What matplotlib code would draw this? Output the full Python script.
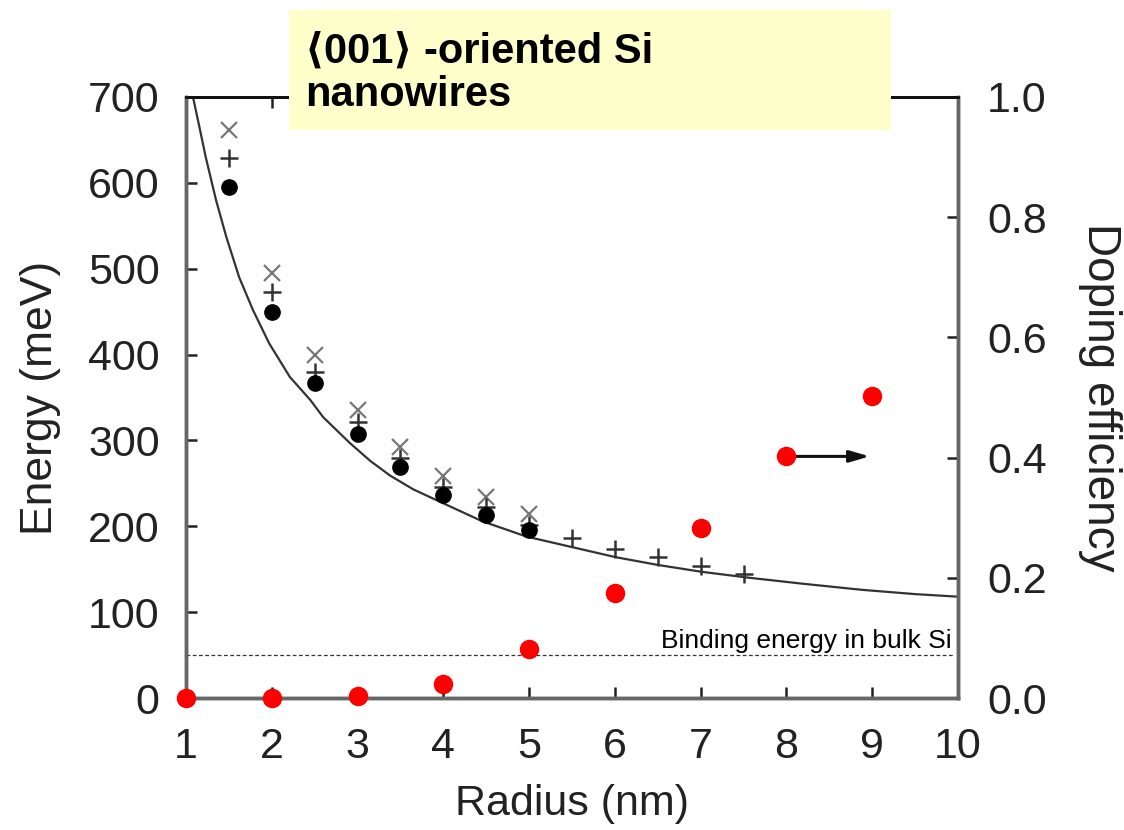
import matplotlib
matplotlib.use("Agg")
import matplotlib.pyplot as plt
from matplotlib.patches import Rectangle

plt.rcParams['font.family'] = ['Liberation Sans', 'DejaVu Sans']

# ---- data ----
radius_circ = [1.5, 2.0, 2.5, 3.0, 3.5, 4.0, 4.5, 5.0]
energy_circ = [595, 450, 367, 307, 269, 237, 213, 196]

radius_plus = [1.5, 2.0, 2.5, 3.0, 3.5, 4.0, 4.5, 5.0, 5.5, 6.0, 6.5, 7.0, 7.5]
energy_plus = [629, 473, 380, 321, 279, 246, 222, 202, 186, 173, 164, 154, 145]

radius_x = [1.5, 2.0, 2.5, 3.0, 3.5, 4.0, 4.5, 5.0]
energy_x = [661, 495, 399, 335, 292, 258, 234, 214]

radius_curve = [1.08, 1.09, 1.15, 1.23, 1.35, 1.47, 1.62, 1.78, 1.97, 2.21, 2.45, 2.60,
                2.91, 3.15, 3.38, 3.65, 3.93, 4.45, 4.97, 5.49, 6.01, 6.5, 7.01, 7.57,
                8.2, 8.88, 9.5, 10.0]
energy_curve = [700, 696, 668, 630, 580, 537, 490, 452, 413, 374, 347, 327,
                297, 276, 259, 243, 230, 206, 188, 176, 164, 155, 147, 140,
                133, 126, 121, 118]

radius_eff = [1, 2, 3, 4, 5, 6, 7, 8, 9]
doping_eff = [0.0, 0.0, 0.003, 0.023, 0.082, 0.174, 0.283, 0.402, 0.503]

bulk_binding = 50

xticks = [1, 2, 3, 4, 5, 6, 7, 8, 9, 10]
yticks_left = [0, 100, 200, 300, 400, 500, 600, 700]
yticks_right = [0.0, 0.2, 0.4, 0.6, 0.8, 1.0]

title_text = "\u27e8001\u27e9 -oriented Si\nnanowires"

# ---- figure ----
fig = plt.figure(figsize=(11.24, 8.30), dpi=100)
ax = fig.add_axes([186/1124, 1 - 698/830, (958 - 186)/1124, (698 - 97)/830])
ax2 = ax.twinx()

ax.plot(radius_curve, energy_curve, color='#333333', lw=1.6, zorder=2)
ax.plot(radius_x, energy_x, ls='none', marker='x', ms=11, mew=1.6, color='#777777', zorder=3)
ax.plot(radius_plus, energy_plus, ls='none', marker='+', ms=13, mew=1.8, color='#333333', zorder=4)
ax.plot(radius_circ, energy_circ, ls='none', marker='o', ms=11, color='black', zorder=5)

ax.axhline(bulk_binding, xmin=0, xmax=0.995, color='#333333', lw=0.9, ls=(0, (3, 2)))
ax.text(9.93, bulk_binding + 2, "Binding energy in bulk Si", ha='right', va='bottom',
        fontsize=19, color='black')

ax2.plot(radius_eff, doping_eff, ls='none', marker='o', ms=13, color='#ff0000',
         clip_on=False, zorder=6)
ax2.annotate("", xy=(8.97, doping_eff[7]), xytext=(8.12, doping_eff[7]),
             arrowprops=dict(arrowstyle='-|>,head_length=1.2,head_width=0.35',
                             color='#111111', lw=2.2, shrinkA=0, shrinkB=0))

ax.set_xlim(1, 10)
ax.set_ylim(0, 700)
ax2.set_ylim(0, 1.0)
ax.set_xticks(xticks)
ax.set_yticks(yticks_left)
ax2.set_yticks(yticks_right)
ax2.set_yticklabels([f"{v:.1f}" for v in yticks_right])

tick_color = '#222222'
ax.tick_params(axis='both', direction='in', length=8, width=1.8, labelsize=31,
               labelcolor=tick_color, color='#222222', top=True)
ax.tick_params(axis='x', pad=21)
ax.tick_params(axis='y', pad=19)
ax2.tick_params(axis='y', direction='in', length=8, width=1.8, labelsize=31,
                labelcolor=tick_color, color='#222222', pad=21)

for a in (ax, ax2):
    for s in a.spines.values():
        s.set_color('#666666')
        s.set_linewidth(2.5)
    a.spines['top'].set_color('#111111')
    a.spines['top'].set_linewidth(2.0)

ax.set_xlabel("Radius (nm)", fontsize=31, color=tick_color, labelpad=12)
ax.set_ylabel("Energy (meV)", fontsize=32, color=tick_color, labelpad=19)
ax2.set_ylabel("Doping efficiency", fontsize=33, color=tick_color, rotation=270,
               labelpad=54)

# title box
fig.patches.append(Rectangle((289/1124, 1 - 130/830), (891 - 289)/1124, 120/830,
                             transform=fig.transFigure, facecolor='#ffffcc',
                             edgecolor='none', zorder=10))
fig.text(305/1124, 1 - 73/830, title_text, fontsize=30, fontweight='bold',
         ha='left', va='center', linespacing=1.12, color='black', zorder=11,
         family=['Liberation Sans', 'DejaVu Sans'])

fig.savefig("out.png", dpi=100)
